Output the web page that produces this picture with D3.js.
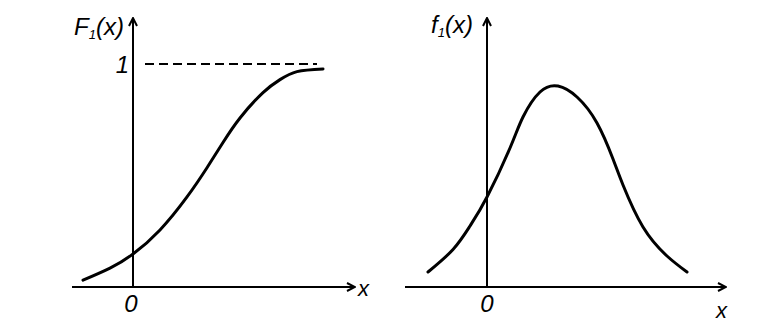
<!DOCTYPE html>
<html>
<head>
<meta charset="utf-8">
<script src="https://cdn.jsdelivr.net/npm/d3@7"></script>
<style>
  body { margin: 0; background: #fff; }
  text { font-family: "Liberation Sans Narrow", "Arial Narrow", "Liberation Sans", sans-serif; font-style: italic; fill: #000; }
</style>
</head>
<body>
<div id="chart"></div>
<script>
// left panel: distribution function F1(x)
var cdfX = [-1.00, -0.46, 0, 0.54, 1.08, 1.48, 1.80, 2.14, 2.60, 2.94, 3.28, 3.80];
var cdfY = [0.031, 0.085, 0.148, 0.256, 0.404, 0.535, 0.648, 0.758, 0.872, 0.930, 0.966, 0.978];

// right panel: density f1(x)
var pdfX = [-1.18, -0.68, -0.34, 0, 0.46, 0.72, 1.06, 1.42, 1.80, 2.20, 2.52, 2.72, 3.12, 3.60, 4.00];
var pdfY = [0.030, 0.075, 0.122, 0.180, 0.278, 0.340, 0.390, 0.402, 0.380, 0.328, 0.256, 0.204, 0.120, 0.062, 0.030];

var W = 774, H = 329;

var svg = d3.select("#chart")
  .append("svg")
    .attr("width", W)
    .attr("height", H);

svg.append("defs").append("marker")
    .attr("id", "arrow")
    .attr("viewBox", "0 0 10 10")
    .attr("refX", 9)
    .attr("refY", 5)
    .attr("markerWidth", 10)
    .attr("markerHeight", 10)
    .attr("markerUnits", "userSpaceOnUse")
    .attr("orient", "auto")
  .append("path")
    .attr("d", "M1,1 L9,5 L1,9")
    .attr("fill", "none")
    .attr("stroke", "#000")
    .attr("stroke-width", 2);

var line = d3.line().curve(d3.curveNatural);

// ---------- left panel ----------
var x1 = d3.scaleLinear().domain([-1.22, 4.44]).range([72, 355]);
var y1 = d3.scaleLinear().domain([0, 1]).range([287, 64]);

var g1 = svg.append("g");

// x axis
g1.append("line")
  .attr("x1", x1(-1.22)).attr("x2", x1(4.44))
  .attr("y1", y1(0)).attr("y2", y1(0))
  .attr("stroke", "#000").attr("stroke-width", 2)
  .attr("marker-end", "url(#arrow)");
// y axis
g1.append("line")
  .attr("x1", x1(0)).attr("x2", x1(0))
  .attr("y1", y1(0)).attr("y2", y1(1.206))
  .attr("stroke", "#000").attr("stroke-width", 2)
  .attr("marker-end", "url(#arrow)");
// asymptote
g1.append("line")
  .attr("x1", x1(0.24)).attr("x2", x1(3.68))
  .attr("y1", y1(1)).attr("y2", y1(1))
  .attr("stroke", "#000").attr("stroke-width", 2.2)
  .attr("stroke-dasharray", "9,5");

g1.append("path")
  .attr("d", line(cdfX.map(function(d, i) { return [x1(d), y1(cdfY[i])]; })))
  .attr("fill", "none").attr("stroke", "#000").attr("stroke-width", 3)
  .attr("stroke-linecap", "round");

g1.append("text").attr("x", x1(0) - 2).attr("y", 312).attr("text-anchor", "middle")
  .style("font-size", "24px").text("0");
g1.append("text").attr("x", x1(0) - 4).attr("y", y1(1) + 9).attr("text-anchor", "end")
  .style("font-size", "24px").text("1");
g1.append("text").attr("x", 358).attr("y", 296)
  .style("font-size", "22px").text("x");
var t1 = g1.append("text").attr("x", 74).attr("y", 35).style("font-size", "24px");
t1.append("tspan").text("F");
t1.append("tspan").attr("dy", 4).style("font-size", "13px").text("1");
t1.append("tspan").attr("dy", -4).text("(x)");

// ---------- right panel ----------
var x2 = d3.scaleLinear().domain([-1.64, 4.78]).range([405, 726]);
var y2 = d3.scaleLinear().domain([0, 0.5]).range([287, 37]);

var g2 = svg.append("g");

g2.append("line")
  .attr("x1", x2(-1.64)).attr("x2", x2(4.78))
  .attr("y1", y2(0)).attr("y2", y2(0))
  .attr("stroke", "#000").attr("stroke-width", 2)
  .attr("marker-end", "url(#arrow)");
g2.append("line")
  .attr("x1", x2(0)).attr("x2", x2(0))
  .attr("y1", y2(0)).attr("y2", 18)
  .attr("stroke", "#000").attr("stroke-width", 2)
  .attr("marker-end", "url(#arrow)");

g2.append("path")
  .attr("d", line(pdfX.map(function(d, i) { return [x2(d), y2(pdfY[i])]; })))
  .attr("fill", "none").attr("stroke", "#000").attr("stroke-width", 3)
  .attr("stroke-linecap", "round");

g2.append("text").attr("x", x2(0)).attr("y", 312).attr("text-anchor", "middle")
  .style("font-size", "24px").text("0");
g2.append("text").attr("x", 716).attr("y", 318)
  .style("font-size", "22px").text("x");
var t2 = g2.append("text").attr("x", 431).attr("y", 33).style("font-size", "24px");
t2.append("tspan").text("f");
t2.append("tspan").attr("dy", 4).style("font-size", "13px").text("1");
t2.append("tspan").attr("dy", -4).text("(x)");
</script>
</body>
</html>
